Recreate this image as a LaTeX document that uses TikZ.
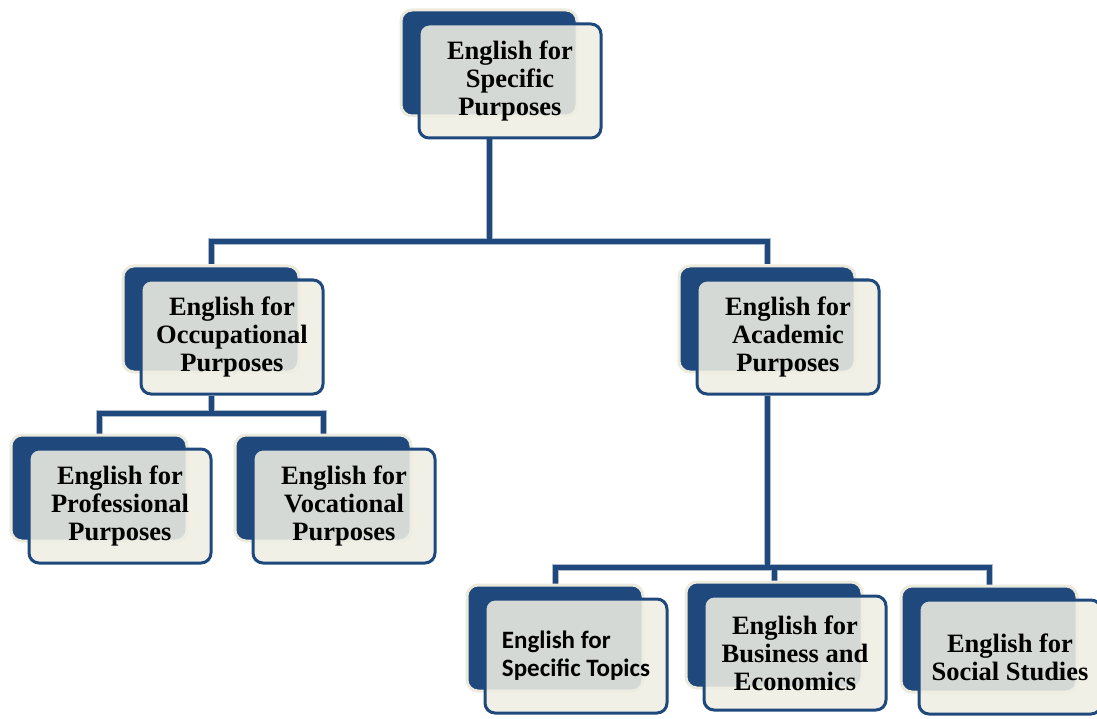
\documentclass[tikz,border=0pt]{standalone}
\usepackage{fontspec}
\setmainfont{Liberation Serif}
\newfontfamily\topicsfont{Carlito}
\pgfdeclarelayer{background}
\pgfsetlayers{background,main}
\definecolor{navy}{HTML}{1F497D}
\definecolor{creamedge}{HTML}{ECEADC}
\definecolor{paper}{HTML}{EFEEE3}
\definecolor{linkhalo}{HTML}{AEBBCD}
\begin{document}
\begin{tikzpicture}[x=1pt,y=-1pt,
  backbox/.style={draw=creamedge, line width=3pt, fill=navy, rounded corners=11pt,
    minimum width=176pt, minimum height=106pt, inner sep=0pt},
  frontbox/.style={draw=navy, line width=3pt, fill=paper, fill opacity=0.88,
    text opacity=1, rounded corners=10pt, minimum width=182pt, minimum height=114pt,
    inner sep=0pt, align=center, text=black,
    font=\bfseries\fontsize{26.5}{28}\selectfont},
  sansbox/.style={frontbox, align=left,
    font=\topicsfont\bfseries\fontsize{25}{28}\selectfont},
  link/.style={draw=navy, line width=5pt},
  halo/.style={draw=linkhalo, line width=7pt}
]
\useasboundingbox (0,0) rectangle (1097,719);

% root
\node[backbox]  (espB) at (489,63) {};
\node[frontbox] (espF) at (510,81) {English for\\Specific\\Purposes};

% second level
\node[backbox]  (eopB) at (211,319) {};
\node[frontbox] (eopF) at (232,337) {English for\\Occupational\\Purposes};
\node[backbox]  (eapB) at (767,319) {};
\node[frontbox] (eapF) at (788,337) {English for\\Academic\\Purposes};

% occupational branch
\node[backbox]  (eppB) at (99,488) {};
\node[frontbox] (eppF) at (120,506) {English for\\Professional\\Purposes};
\node[backbox]  (evpB) at (323,488) {};
\node[frontbox] (evpF) at (344,506) {English for\\Vocational\\Purposes};

% academic branch
\node[backbox]  (estB) at (555,638) {};
\node[sansbox]  (estF) at (576,656) {English for\\Specific Topics};
\node[backbox]  (ebeB) at (774,635) {};
\node[frontbox] (ebeF) at (795,653) {English for\\Business and\\Economics};
\node[backbox]  (essB) at (989,639) {};
\node[frontbox] (essF) at (1010,657) {English for\\Social Studies};

% connectors
\coordinate (bus1) at (489,242);
\coordinate (bus2) at (211,413);
\coordinate (bus3) at (767,567);
\begin{pgfonlayer}{background}
  \foreach \s in {halo,link}{
    \draw[\s] (espB |- espF.south) -- (bus1);
    \draw[\s] (eopB.north) |- (bus1) -| (eapB.north);
    \draw[\s] (eopB |- eopF.south) -- (bus2);
    \draw[\s] (eppB.north) |- (bus2) -| (evpB.north);
    \draw[\s] (eapB |- eapF.south) -- (bus3);
    \draw[\s] (estB.north) |- (bus3) -| (essB.north);
    \draw[\s] (bus3) -| (ebeB.north);
  }
\end{pgfonlayer}
\end{tikzpicture}
\end{document}
